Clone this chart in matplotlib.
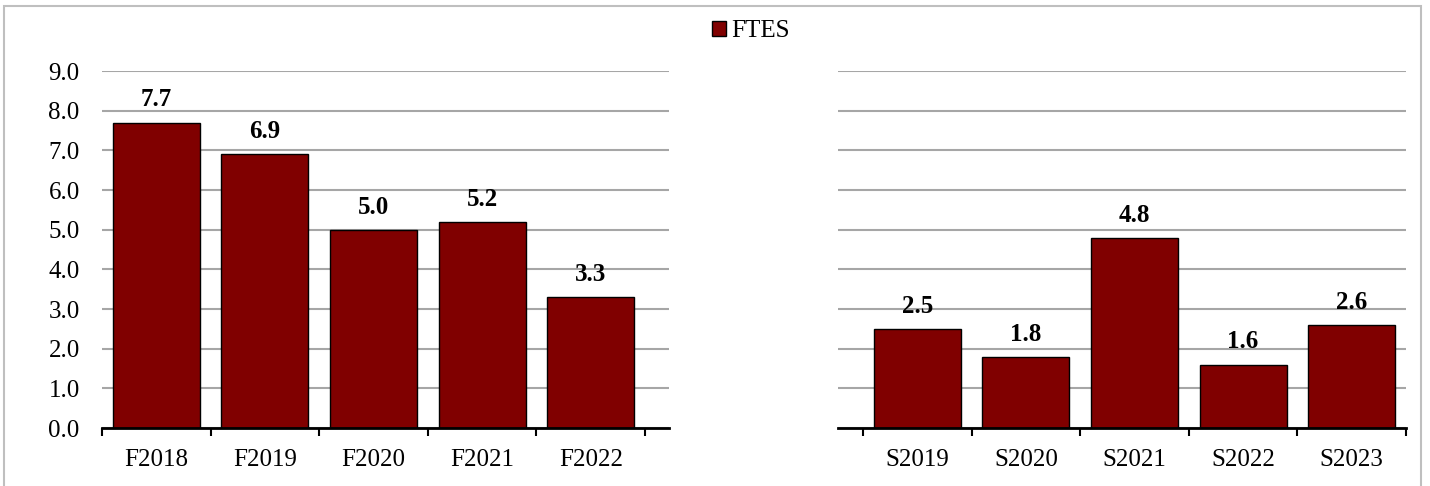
import matplotlib.pyplot as plt
from matplotlib.patches import Rectangle

# values
fall_labels = ["F2018", "F2019", "F2020", "F2021", "F2022"]
fall_values = [7.7, 6.9, 5.0, 5.2, 3.3]
spring_labels = ["S2019", "S2020", "S2021", "S2022", "S2023"]
spring_values = [2.5, 1.8, 4.8, 1.6, 2.6]
y_ticks = [0, 1, 2, 3, 4, 5, 6, 7, 8, 9]

bar_color = "#800000"
grid_color = "#a6a6a6"

plt.rcParams['font.family'] = ['Liberation Serif', 'DejaVu Serif']
plt.rcParams['font.size'] = 18

fig = plt.figure(figsize=(14.3, 4.86), dpi=100)
ax1 = fig.add_axes([0.0713, 0.1193, 0.3965, 0.7346])
ax2 = fig.add_axes([0.586, 0.1193, 0.3972, 0.7346])

# light grey frame round the whole chart
fig.patches.append(Rectangle((4 / 1430, -0.05), 1417 / 1430, 1.05 - 6 / 486,
                             transform=fig.transFigure, fill=False,
                             edgecolor="#bfbfbf", linewidth=1.5))


def draw_panel(ax, labels, values, xlim, show_y):
    x = range(len(labels))
    bars = ax.bar(x, values, width=0.8, color=bar_color, edgecolor="black",
                  linewidth=1, zorder=3, label="FTES")
    for b, v in zip(bars, values):
        ax.annotate(f"{v:.1f}", (b.get_x() + b.get_width() / 2, v),
                    xytext=(0, 8), textcoords="offset points",
                    ha="center", va="bottom", fontweight="bold")
    ax.set_xlim(*xlim)
    ax.set_ylim(0, 9)
    ax.set_yticks(y_ticks)
    ax.yaxis.grid(True, color=grid_color, linewidth=1.5, zorder=0)
    ax.set_axisbelow(True)
    ax.set_xticks([i - 0.5 for i in range(len(labels) + 1)])
    ax.set_xticklabels([])
    ax.set_xticks(list(x), labels, minor=True)
    ax.tick_params(axis="x", which="major", direction="out", length=6,
                   width=1.5, color="black")
    ax.tick_params(axis="x", which="minor", length=0, pad=15)
    if show_y:
        ax.set_yticklabels([f"{t:.1f}" for t in y_ticks])
        ax.tick_params(axis="y", length=0, pad=16)
    else:
        ax.tick_params(axis="y", length=0, labelleft=False)
    for s in ["top", "right", "left"]:
        ax.spines[s].set_visible(False)
    ax.spines["bottom"].set_linewidth(2)
    ax.spines["bottom"].set_zorder(4)
    return bars


bars = draw_panel(ax1, fall_labels, fall_values, (-0.5, 4.72), True)
draw_panel(ax2, spring_labels, spring_values, (-0.73, 4.5), False)

fig.legend(handles=[bars], labels=["FTES"], loc="center",
           bbox_to_anchor=(751 / 1430, 1 - 31 / 486), frameon=False,
           handlelength=0.55, handleheight=0.55, handletextpad=0.2,
           fontsize=18)

fig.savefig("out.png", dpi=100)
